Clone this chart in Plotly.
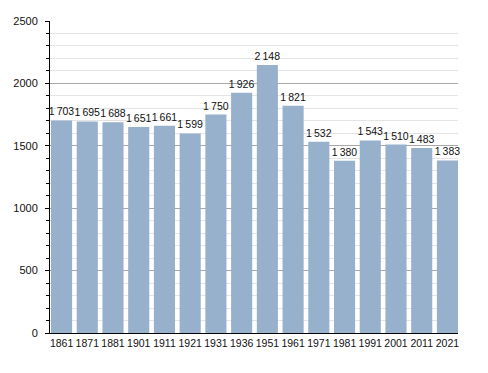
import plotly.graph_objects as go

years = ["1861", "1871", "1881", "1901", "1911", "1921", "1931", "1936",
         "1951", "1961", "1971", "1981", "1991", "2001", "2011", "2021"]
population = [1703, 1695, 1688, 1651, 1661, 1599, 1750, 1926,
              2148, 1821, 1532, 1380, 1543, 1510, 1483, 1383]

labels = [f"{v:,}".replace(",", "\u2009") for v in population]

FONT = "Liberation Sans, Arial"

fig = go.Figure(go.Bar(
    x=years, y=population,
    text=labels, textposition="outside", cliponaxis=False,
    constraintext="none",
    textfont=dict(family=FONT, size=10.5, color="#111"),
    marker=dict(color="#97b0cb", line=dict(width=0)),
    hoverinfo="skip",
))

# page body has an 8px margin, so offsets are compensated in the margins
fig.update_layout(
    width=480, height=365,
    margin=dict(l=42, r=30, t=13, b=40, autoexpand=False),
    paper_bgcolor="white", plot_bgcolor="white",
    bargap=0.18, showlegend=False,
    uniformtext=dict(mode=False),
    font=dict(family=FONT, size=11, color="#111"),
)
fig.update_xaxes(
    type="category", range=[-0.449, 15.41], automargin=False,
    showline=True, linecolor="black", linewidth=1,
    ticks="", showgrid=False, tickangle=0,
    tickfont=dict(family=FONT, size=10.5, color="#111"),
)
fig.update_yaxes(
    range=[0, 2500], dtick=500, automargin=False,
    showline=True, linecolor="black", linewidth=1,
    ticks="outside", ticklen=4, tickcolor="black",
    showgrid=True, gridcolor="#a8a8a8", gridwidth=1,
    minor=dict(dtick=100, ticks="outside", ticklen=3, tickcolor="black",
               showgrid=True, gridcolor="#e4e4e4", gridwidth=1),
    zeroline=False,
    tickfont=dict(family=FONT, size=11, color="#111"),
    ticklabelstandoff=5,
)

fig.write_html("out.html")
